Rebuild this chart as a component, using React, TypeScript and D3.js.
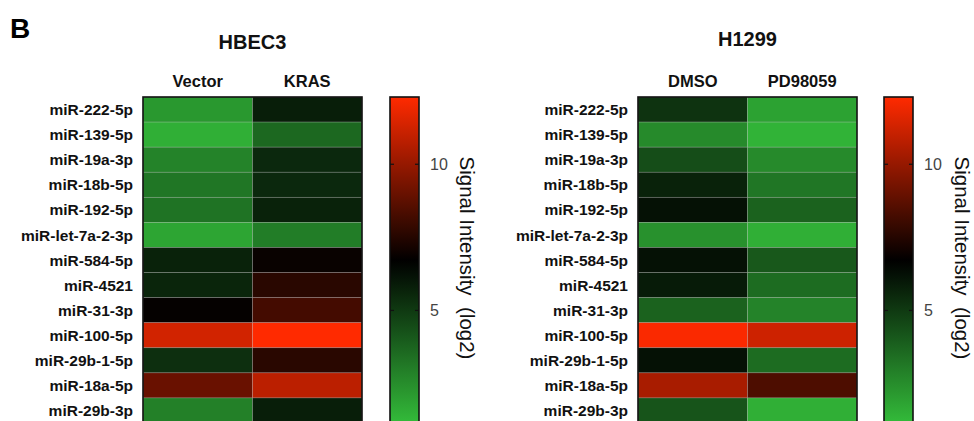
import React from "react";
import * as d3 from "d3";

const mirnas = [
  "miR-222-5p", "miR-139-5p", "miR-19a-3p", "miR-18b-5p", "miR-192-5p",
  "miR-let-7a-2-3p", "miR-584-5p", "miR-4521", "miR-31-3p", "miR-100-5p",
  "miR-29b-1-5p", "miR-18a-5p", "miR-29b-3p",
];

const hbecColumns = ["Vector", "KRAS"];
const hbecVector = [2.2, 1.5, 2.8, 3.2, 3.3, 1.8, 5.7, 5.6, 6.8, 11.3, 5.3, 9.0, 2.9];
const hbecKras = [5.8, 3.6, 5.5, 5.5, 5.7, 3.0, 6.9, 7.6, 8.2, 12.3, 7.6, 10.8, 5.8];

const h1299Columns = ["DMSO", "PD98059"];
const h1299Dmso = [5.2, 2.6, 4.4, 5.7, 6.2, 2.4, 6.2, 5.9, 3.8, 12.2, 6.2, 10.4, 4.2];
const h1299Pd = [1.9, 1.4, 2.6, 3.2, 3.8, 1.5, 4.1, 3.5, 2.8, 11.2, 3.5, 8.4, 1.5];

const colorDomain = [1.15, 6.7, 12.3];
const colorTicks = [5, 10];
const legendTitle = "Signal Intensity  (log2)";

const FONT = "'Liberation Sans', Arial, Helvetica, sans-serif";
const TOP = 97;
const BOTTOM = 423;

const color = d3
  .scaleLinear<string>()
  .domain(colorDomain)
  .range(["#33bb3a", "#000000", "#ff2a00"])
  .interpolate(d3.interpolateRgb);

type PanelProps = {
  title: string;
  columns: string[];
  series: number[][];
  x0: number;
  x1: number;
  titleY: number;
  cbX: number;
  gradId: string;
  legendX: number;
};

function Panel({ title, columns, series, x0, x1, titleY, cbX, gradId, legendX }: PanelProps) {
  const x = d3.scaleBand<string>().domain(columns).range([x0, x1]);
  const y = d3.scaleBand<string>().domain(mirnas).range([TOP, BOTTOM]);
  const cbScale = d3.scaleLinear().domain([colorDomain[0], colorDomain[2]]).range([BOTTOM, TOP]);
  const cbW = 29;
  const stops = d3.range(0, 1.0001, 0.05);
  return (
    <g>
      <defs>
        <linearGradient id={gradId} x1="0" y1="1" x2="0" y2="0">
          {stops.map((t) => (
            <stop
              key={t}
              offset={t}
              stopColor={color(colorDomain[0] + t * (colorDomain[2] - colorDomain[0]))}
            />
          ))}
        </linearGradient>
      </defs>
      <text
        x={(x0 + x1) / 2}
        y={titleY}
        textAnchor="middle"
        fontFamily={FONT}
        fontWeight="bold"
        fontSize={20}
        fill="#111"
      >
        {title}
      </text>
      {columns.map((c) => (
        <text
          key={c}
          x={(x(c) as number) + x.bandwidth() / 2}
          y={87}
          textAnchor="middle"
          fontFamily={FONT}
          fontWeight="bold"
          fontSize={16.5}
          fill="#111"
        >
          {c}
        </text>
      ))}
      {mirnas.map((m) => (
        <text
          key={m}
          x={x0 - 10}
          y={(y(m) as number) + y.bandwidth() / 2}
          dy="0.36em"
          textAnchor="end"
          fontFamily={FONT}
          fontWeight="bold"
          fontSize={15.5}
          fill="#111"
        >
          {m}
        </text>
      ))}
      {columns.map((c, ci) =>
        mirnas.map((m, ri) => (
          <rect
            key={c + m}
            x={x(c) as number}
            y={y(m) as number}
            width={x.bandwidth()}
            height={y.bandwidth()}
            fill={color(series[ci][ri])}
            stroke="rgba(190,190,190,0.35)"
            strokeWidth={0.7}
          />
        ))
      )}
      <rect
        x={x0}
        y={TOP}
        width={x1 - x0}
        height={BOTTOM - TOP}
        fill="none"
        stroke="#111"
        strokeWidth={1.6}
      />
      <rect
        x={cbX}
        y={TOP}
        width={cbW}
        height={BOTTOM - TOP}
        fill={`url(#${gradId})`}
        stroke="#111"
        strokeWidth={1.6}
      />
      {colorTicks.map((t) => (
        <g key={t}>
          <line x1={cbX} x2={cbX + 4} y1={cbScale(t)} y2={cbScale(t)} stroke="#111" strokeWidth={1.2} />
          <line x1={cbX + cbW - 4} x2={cbX + cbW} y1={cbScale(t)} y2={cbScale(t)} stroke="#111" strokeWidth={1.2} />
          <text
            x={cbX + cbW + 11}
            y={cbScale(t)}
            dy="0.36em"
            fontFamily={FONT}
            fontSize={16}
            fill="#444"
          >
            {t}
          </text>
        </g>
      ))}
      <text
        transform={`translate(${legendX},${(TOP + BOTTOM) / 2 - 2}) rotate(90)`}
        textAnchor="middle"
        dy="0.35em"
        fontFamily={FONT}
        fontSize={20.5}
        fill="#111"
        style={{ whiteSpace: "pre" }}
      >
        {legendTitle}
      </text>
    </g>
  );
}

export default function App() {
  return (
    <svg
      width={974}
      height={421}
      style={{ position: "absolute", left: 0, top: 0, background: "#fff" }}
    >
      <rect width={974} height={421} fill="#fff" />
      <text x={10} y={38} fontFamily={FONT} fontWeight="bold" fontSize={28} fill="#000">
        B
      </text>
      <Panel
        title="HBEC3"
        columns={hbecColumns}
        series={[hbecVector, hbecKras]}
        x0={143}
        x1={362}
        titleY={49}
        cbX={390}
        gradId="g1"
        legendX={467}
      />
      <Panel
        title="H1299"
        columns={h1299Columns}
        series={[h1299Dmso, h1299Pd]}
        x0={638}
        x1={857}
        titleY={46}
        cbX={884}
        gradId="g2"
        legendX={962}
      />
    </svg>
  );
}
